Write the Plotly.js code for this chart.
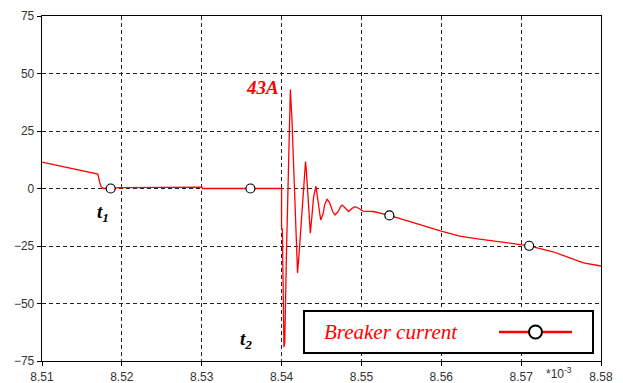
<!DOCTYPE html>
<html>
<head>
<meta charset="utf-8">
<script src="https://cdn.plot.ly/plotly-3.0.1.min.js"></script>
<style>html,body{margin:0;padding:0;background:#fff;}#chart{width:623px;height:383px;}</style>
</head>
<body>
<div id="chart"></div>
<script>
// time axis in units of 1e-3 s
var timeMs = [8.5100, 8.5170, 8.5172, 8.5174, 8.5177, 8.5186, 8.5197, 8.5300, 8.5301, 8.5361,
  8.5400, 8.5400, 8.5401, 8.5403, 8.5404, 8.5406, 8.5408, 8.5410, 8.5411, 8.5413,
  8.5415, 8.5417, 8.5420, 8.5422, 8.5425, 8.5428, 8.5430, 8.5431, 8.5433, 8.5436,
  8.5438, 8.5440, 8.5443, 8.5446, 8.5449, 8.5452, 8.5454, 8.5457, 8.5460, 8.5464,
  8.5467, 8.5471, 8.5474, 8.5476, 8.5480, 8.5484, 8.5488, 8.5492, 8.5497, 8.5502,
  8.5515, 8.5535, 8.5600, 8.5623, 8.5648, 8.5699, 8.5710, 8.5740, 8.5778, 8.5800];
var breakerCurrent = [11.5, 6.3, 3.0, 0.8, 0.0, 0.0, 0.4, 0.6, 0.0, 0.0,
  0.0, -17, -18, -69, -67, -30, 5, 38, 43, 30,
  12, -5, -36.7, -28, -12, 5, 11.7, 8, -5, -19.4,
  -12, -4, 1, -6, -13.7, -11, -7, -4.7, -6, -10,
  -11.5, -10, -7.8, -7.2, -8.5, -10, -8.7, -7.9, -8.7, -9.8,
  -10.0, -11.7, -18.5, -20.7, -22, -24.3, -24.9, -27.5, -32.3, -33.7];
var markerTime = [8.5186, 8.5361, 8.5535, 8.5710];
var markerCurrent = [0, 0, -11.7, -24.9];
var xTicks = [8.51, 8.52, 8.53, 8.54, 8.55, 8.56, 8.57, 8.58];
var xTickLabels = ['8.51', '8.52', '8.53', '8.54', '8.55', '8.56', '8.57', '8.58'];
var yTicks = [-75, -50, -25, 0, 25, 50, 75];
var seriesName = 'Breaker current';

var L = 42, R = 601, T = 16, B = 361, W = R - L, H = B - T;
function px(xp) { return (xp - L) / W; }
function py(yp) { return (B - yp) / H; }

var traces = [
  {x: timeMs, y: breakerCurrent, type: 'scatter', mode: 'lines', name: seriesName,
   line: {color: '#ff0000', width: 1.3}, showlegend: false, hoverinfo: 'skip'},
  {x: markerTime, y: markerCurrent, type: 'scatter', mode: 'markers', name: seriesName,
   marker: {symbol: 'circle', size: 9, color: '#ffffff', line: {color: '#000000', width: 1.2}},
   showlegend: false, hoverinfo: 'skip'}
];

var gridDash = '4px,3px';
var layout = {
  width: 623, height: 383,
  margin: {l: L, r: 623 - R, t: T, b: 383 - B, pad: 0},
  paper_bgcolor: '#ffffff', plot_bgcolor: '#ffffff',
  font: {family: 'Liberation Sans, Arial, sans-serif', size: 12, color: '#333'},
  showlegend: false,
  xaxis: {
    range: [8.51, 8.58], tickvals: xTicks, ticktext: xTickLabels,
    showline: true, linecolor: '#000', linewidth: 1.3, mirror: true,
    ticks: 'outside', ticklen: 4, tickcolor: '#000', tickwidth: 1,
    showgrid: true, gridcolor: '#222', gridwidth: 1, griddash: gridDash,
    zeroline: false, tickfont: {size: 12, color: '#333'}
  },
  yaxis: {
    range: [-75, 75], tickvals: yTicks,
    showline: true, linecolor: '#000', linewidth: 1.3, mirror: true,
    ticks: 'outside', ticklen: 4, tickcolor: '#000', tickwidth: 1,
    showgrid: true, gridcolor: '#222', gridwidth: 1, griddash: gridDash,
    zeroline: false, tickfont: {size: 12, color: '#333'}
  },
  shapes: [
    {type: 'rect', xref: 'paper', yref: 'paper', x0: px(304), x1: px(593), y0: py(353), y1: py(311),
     line: {color: '#000', width: 2}, fillcolor: '#ffffff', layer: 'above'},
    {type: 'line', xref: 'paper', yref: 'paper', x0: px(499), x1: px(572), y0: py(332), y1: py(332),
     line: {color: '#ff0000', width: 2.5}, layer: 'above'},
    {type: 'circle', xref: 'paper', yref: 'paper', x0: px(529), x1: px(542), y0: py(338.5), y1: py(325.5),
     line: {color: '#000', width: 2}, fillcolor: '#ffffff', layer: 'above'}
  ],
  annotations: [
    {xref: 'paper', yref: 'paper', x: px(322), y: py(332), xanchor: 'left', yanchor: 'middle',
     text: seriesName, showarrow: false,
     font: {family: 'Liberation Serif, Times New Roman, serif', size: 21, color: '#ff0000', style: 'italic'}},
    {x: 8.5176, y: -10.6, xref: 'x', yref: 'y', text: '<b><i>t<sub>1</sub></i></b>', showarrow: false,
     font: {family: 'Liberation Serif, Times New Roman, serif', size: 19, color: '#000'}},
    {x: 8.5355, y: -65.9, xref: 'x', yref: 'y', text: '<b><i>t<sub>2</sub></i></b>', showarrow: false,
     font: {family: 'Liberation Serif, Times New Roman, serif', size: 19, color: '#000'}},
    {x: 8.53755, y: 44.1, xref: 'x', yref: 'y', text: '<b><i>43A</i></b>', showarrow: false,
     font: {family: 'Liberation Serif, Times New Roman, serif', size: 19, color: '#ff0000'}},
    {xref: 'paper', yref: 'paper', x: px(559), y: py(373), xanchor: 'center', yanchor: 'middle',
     text: '*10<sup>-3</sup>', showarrow: false,
     font: {family: 'Liberation Sans, Arial, sans-serif', size: 12, color: '#333'}}
  ]
};

Plotly.newPlot('chart', traces, layout, {staticPlot: true, displayModeBar: false});
</script>
</body>
</html>
